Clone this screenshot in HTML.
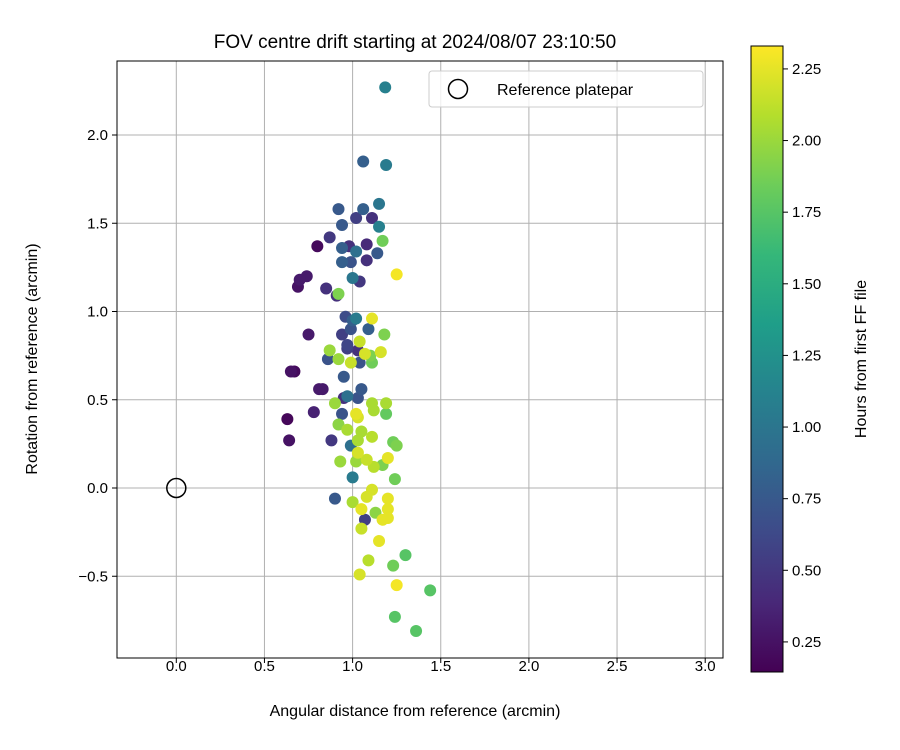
<!DOCTYPE html>
<html><head><meta charset="utf-8"><style>
html,body{margin:0;padding:0;background:#fff;}
svg{display:block;font-family:"Liberation Sans","DejaVu Sans",sans-serif;}
</style></head><body>
<svg id="chart" width="900" height="750" viewBox="0 0 900 750" xmlns="http://www.w3.org/2000/svg">
<rect width="900" height="750" fill="#fff"/>
<text x="415" y="48" font-size="19" text-anchor="middle" fill="#000">FOV centre drift starting at 2024/08/07 23:10:50</text>
<g id="grid"></g>
<g id="xticks"></g>
<g id="yticks"></g>
<g id="points"></g>
<rect x="117" y="61" width="606" height="597" fill="none" stroke="#000" stroke-width="1"/>
<text x="415" y="716" font-size="16" text-anchor="middle">Angular distance from reference (arcmin)</text>
<text transform="translate(37,359) rotate(-90)" font-size="16" text-anchor="middle">Rotation from reference (arcmin)</text>
<g>
<rect x="429" y="71" width="274" height="36" rx="3" fill="#fff" fill-opacity="0.8" stroke="#ccc"/>
<circle cx="458" cy="89" r="9.5" fill="none" stroke="#000" stroke-width="1.5"/>
<text x="497" y="95" font-size="16">Reference platepar</text>
</g>
<defs><linearGradient id="vir" x1="0" y1="1" x2="0" y2="0"></linearGradient></defs>
<rect x="751" y="46" width="32" height="626" fill="url(#vir)" stroke="#000" stroke-width="1"/>
<g id="cticks"></g>
<text transform="translate(866,359) rotate(-90)" font-size="16" text-anchor="middle">Hours from first FF file</text>
</svg>
<script>
const xs=[1.185,1.06,1.19,0.92,1.15,1.06,1.02,1.11,0.94,1.15,0.87,1.17,0.80,0.98,1.08,0.94,1.02,1.14,0.94,0.99,1.08,1.25,0.74,0.70,1.00,1.04,0.69,0.85,0.92,0.91,0.96,1.00,1.02,1.11,0.75,0.94,0.99,1.18,1.04,0.97,0.87,1.03,1.07,1.10,1.16,0.86,0.92,0.99,1.04,1.11,0.65,0.67,0.95,0.81,0.83,1.05,0.97,1.03,1.11,1.19,0.90,0.95,0.78,0.94,1.02,1.03,1.12,1.19,0.63,0.92,0.97,1.05,1.11,0.88,0.64,0.99,1.03,1.23,1.25,1.03,1.08,1.20,0.93,1.02,1.12,1.17,1.00,1.24,1.11,1.08,0.90,1.20,1.00,1.05,1.20,1.13,1.07,1.17,1.20,1.05,1.15,1.30,1.09,1.23,1.04,1.25,1.44,1.24,1.36,1.09,0.97];
const ys=[2.27,1.85,1.83,1.58,1.61,1.58,1.53,1.53,1.49,1.48,1.42,1.40,1.37,1.37,1.38,1.36,1.34,1.33,1.28,1.28,1.29,1.21,1.20,1.18,1.19,1.17,1.14,1.13,1.10,1.09,0.97,0.95,0.96,0.96,0.87,0.87,0.90,0.87,0.83,0.79,0.78,0.78,0.76,0.75,0.77,0.73,0.73,0.71,0.71,0.71,0.66,0.66,0.63,0.56,0.56,0.56,0.52,0.51,0.48,0.48,0.48,0.51,0.43,0.42,0.42,0.40,0.44,0.42,0.39,0.36,0.33,0.32,0.29,0.27,0.27,0.24,0.27,0.26,0.24,0.20,0.16,0.17,0.15,0.15,0.12,0.13,0.06,0.05,-0.01,-0.05,-0.06,-0.06,-0.08,-0.12,-0.12,-0.14,-0.18,-0.18,-0.17,-0.23,-0.30,-0.38,-0.41,-0.44,-0.49,-0.55,-0.58,-0.73,-0.81,0.90,0.81];
const hours=[1.1,0.8,1.05,0.75,1.0,0.8,0.55,0.45,0.75,1.1,0.5,1.85,0.2,0.45,0.4,0.8,0.95,0.75,0.8,0.7,0.45,2.3,0.3,0.3,1.0,0.5,0.25,0.45,1.9,0.45,0.65,0.8,1.05,2.25,0.3,0.55,0.7,1.9,2.15,0.55,2.0,0.45,2.2,1.9,2.2,0.7,2.0,2.15,0.7,1.85,0.25,0.2,0.75,0.3,0.3,0.75,0.95,0.7,2.05,2.05,2.0,0.45,0.35,0.7,2.25,2.2,2.05,1.8,0.18,1.95,2.05,2.05,2.1,0.5,0.25,0.95,2.05,1.85,1.9,2.2,2.15,2.25,2.0,2.0,2.1,1.9,1.05,1.85,2.2,2.2,0.75,2.25,2.05,2.25,2.25,1.95,0.55,2.25,2.25,2.15,2.25,1.75,2.1,1.85,2.2,2.3,1.75,1.75,1.75,0.8,0.6];
const xTicks=[0.0,0.5,1.0,1.5,2.0,2.5,3.0];
const yTicks=[-0.5,0.0,0.5,1.0,1.5,2.0];
const cTicks=[0.25,0.5,0.75,1.0,1.25,1.5,1.75,2.0,2.25];
const X0=176.3,XS=176.3,Y0=488,YS=176.5;
const xPos=v=>X0+v*XS, yPos=v=>Y0-v*YS;
const CMIN=0.145,CMAX=2.33;
const cPos=v=>672-(v-CMIN)/(CMAX-CMIN)*626;
const vir=[[68,1,84],[72,40,120],[62,74,137],[49,104,142],[38,130,142],[31,158,137],[53,183,121],[109,205,89],[180,222,44],[253,231,37]];
function col(v){let t=Math.max(0,Math.min(1,(v-CMIN)/(CMAX-CMIN)))*(vir.length-1);let i=Math.min(vir.length-2,Math.floor(t)),f=t-i;
const c=vir[i].map((a,k)=>Math.round(a+(vir[i+1][k]-a)*f));return `rgb(${c})`;}
const NS="http://www.w3.org/2000/svg";
function mk(tag,attrs,parent,txt){const e=document.createElementNS(NS,tag);for(const k in attrs)e.setAttribute(k,attrs[k]);if(txt!==undefined)e.textContent=txt;parent.appendChild(e);return e;}
const grid=document.getElementById('grid'),gx=document.getElementById('xticks'),gy=document.getElementById('yticks');
xTicks.forEach(v=>{const p=xPos(v);
 const l=mk('line',{x1:p,x2:p,y1:61,y2:658,stroke:'#b0b0b0','stroke-width':1},grid);
 
 
 mk('line',{x1:p,x2:p,y1:658,y2:663,stroke:'#000'},gx);
 const t=mk('text',{x:p,y:671,'font-size':15,'text-anchor':'middle','dominant-baseline':'auto'},gx,v.toFixed(1));
 
 });
yTicks.forEach(v=>{const p=yPos(v);
 const l=mk('line',{x1:117,x2:723,y1:p,y2:p,stroke:'#b0b0b0','stroke-width':1},grid);
 
 
 mk('line',{x1:112,x2:117,y1:p,y2:p,stroke:'#000'},gy);
 const t=mk('text',{x:108,y:p+5,'font-size':15,'text-anchor':'end'},gy,(v<0?'\u2212'+(-v).toFixed(1):v.toFixed(1)));
 
 });
const pts=document.getElementById('points');
const ref=mk('circle',{cx:xPos(0),cy:yPos(0),r:9.5,fill:'none',stroke:'#000','stroke-width':1.5},pts);


const idx=xs.map((_,i)=>i).sort((a,b)=>hours[a]-hours[b]);
idx.forEach(i=>{const c=mk('circle',{cx:xPos(xs[i]),cy:yPos(ys[i]),r:6,fill:col(hours[i])},pts);
 
 });
const grad=document.getElementById('vir');
vir.forEach((c,i)=>mk('stop',{offset:(i/(vir.length-1)*100)+'%','stop-color':`rgb(${c})`},grad));
const ct=document.getElementById('cticks');
cTicks.forEach(v=>{const p=cPos(v);
 mk('line',{x1:783,x2:788,y1:p,y2:p,stroke:'#000'},ct);
 const t=mk('text',{x:792,y:p+5,'font-size':15},ct,v.toFixed(2));
 
 });
</script>
</body></html>
